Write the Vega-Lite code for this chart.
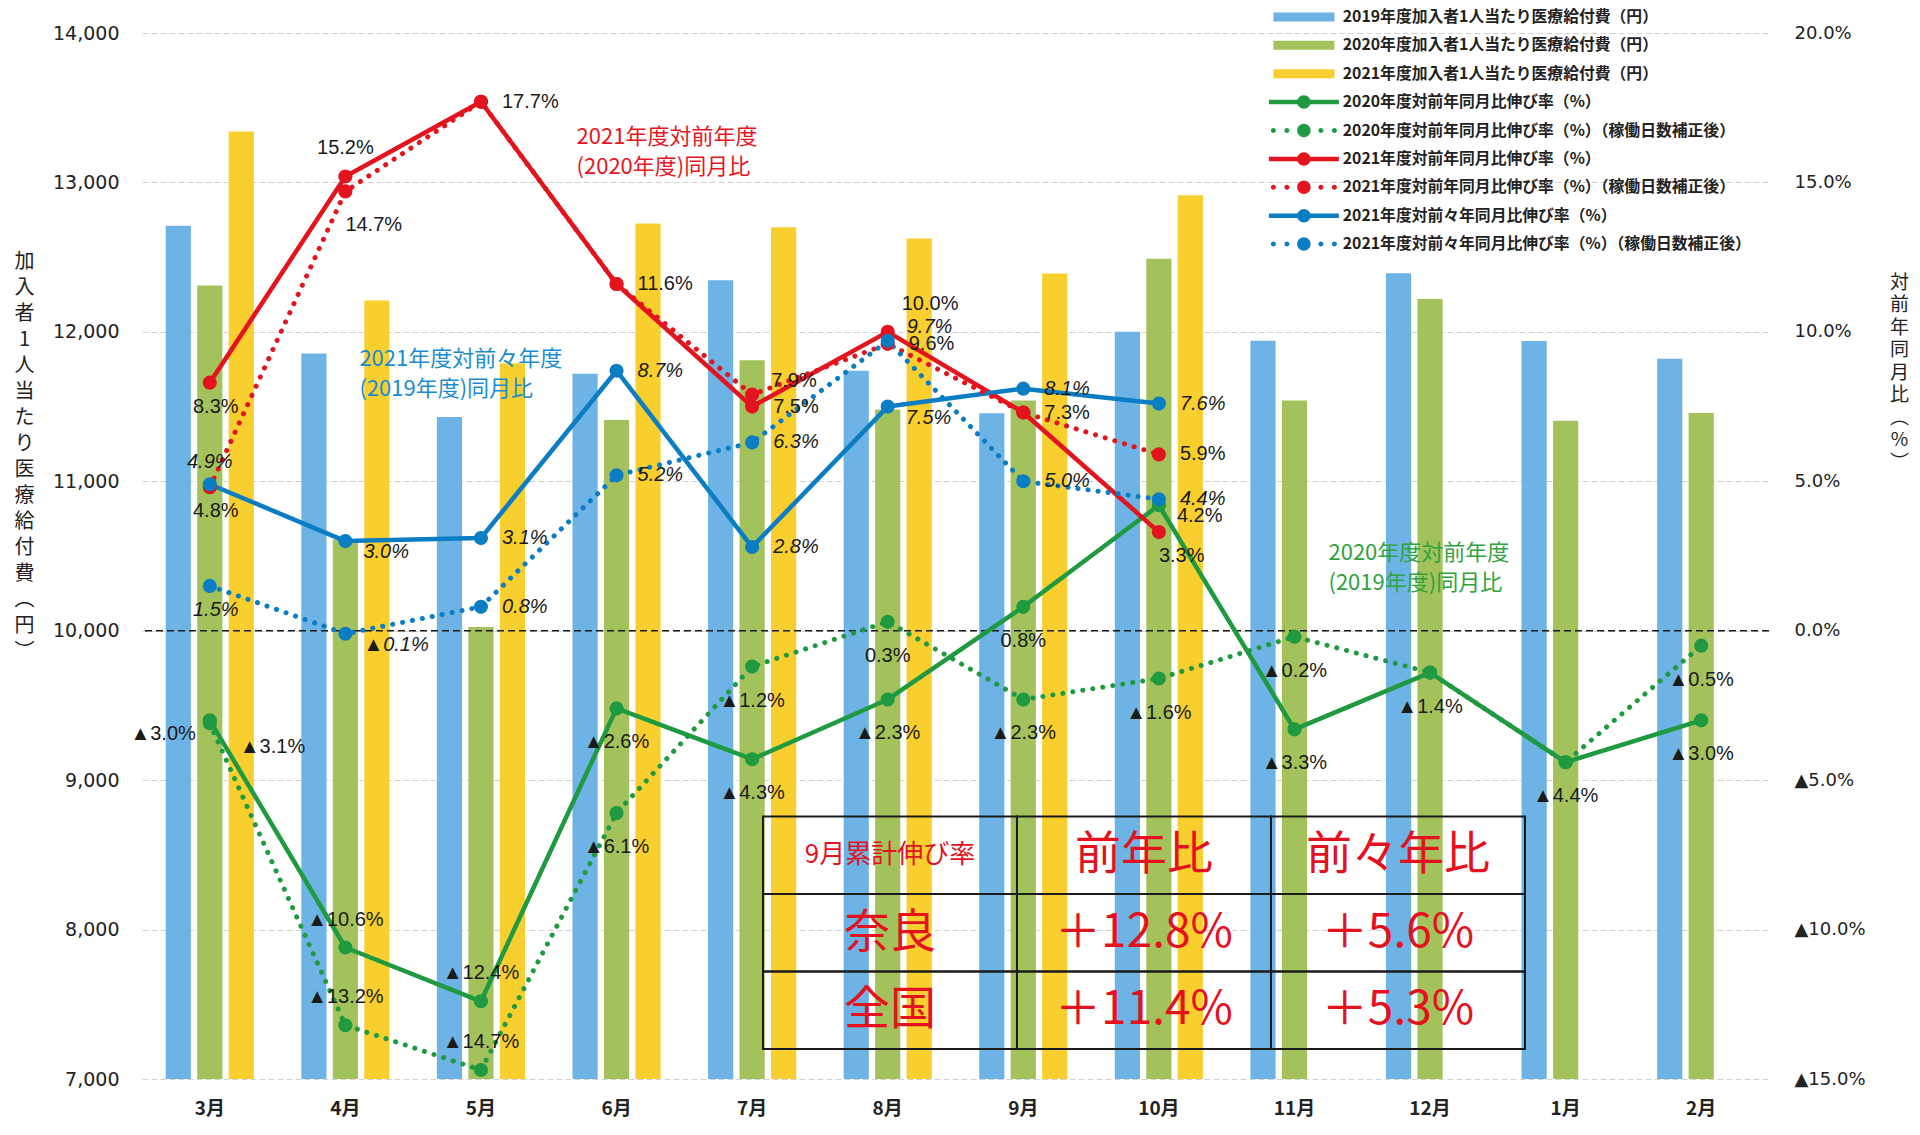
{
  "$schema": "https://vega.github.io/schema/vega-lite/v6.json",
  "width": 1627,
  "height": 1046,
  "autosize": {"type": "none"},
  "padding": {"left": 142, "top": 33, "right": 151, "bottom": 56},
  "background": "white",
  "config": {"view": {"stroke": null}, "font": "Noto Sans CJK JP"},
  "datasets": {
    "yen": [
      {"month": "3月", "series": "2019年度加入者1人当たり医療給付費（円）", "yen": 12710},
      {"month": "3月", "series": "2020年度加入者1人当たり医療給付費（円）", "yen": 12310},
      {"month": "3月", "series": "2021年度加入者1人当たり医療給付費（円）", "yen": 13340},
      {"month": "4月", "series": "2019年度加入者1人当たり医療給付費（円）", "yen": 11855},
      {"month": "4月", "series": "2020年度加入者1人当たり医療給付費（円）", "yen": 10610},
      {"month": "4月", "series": "2021年度加入者1人当たり医療給付費（円）", "yen": 12210},
      {"month": "5月", "series": "2019年度加入者1人当たり医療給付費（円）", "yen": 11430},
      {"month": "5月", "series": "2020年度加入者1人当たり医療給付費（円）", "yen": 10025},
      {"month": "5月", "series": "2021年度加入者1人当たり医療給付費（円）", "yen": 11790},
      {"month": "6月", "series": "2019年度加入者1人当たり医療給付費（円）", "yen": 11720},
      {"month": "6月", "series": "2020年度加入者1人当たり医療給付費（円）", "yen": 11410},
      {"month": "6月", "series": "2021年度加入者1人当たり医療給付費（円）", "yen": 12725},
      {"month": "7月", "series": "2019年度加入者1人当たり医療給付費（円）", "yen": 12345},
      {"month": "7月", "series": "2020年度加入者1人当たり医療給付費（円）", "yen": 11810},
      {"month": "7月", "series": "2021年度加入者1人当たり医療給付費（円）", "yen": 12700},
      {"month": "8月", "series": "2019年度加入者1人当たり医療給付費（円）", "yen": 11740},
      {"month": "8月", "series": "2020年度加入者1人当たり医療給付費（円）", "yen": 11480},
      {"month": "8月", "series": "2021年度加入者1人当たり医療給付費（円）", "yen": 12625},
      {"month": "9月", "series": "2019年度加入者1人当たり医療給付費（円）", "yen": 11455},
      {"month": "9月", "series": "2020年度加入者1人当たり医療給付費（円）", "yen": 11540},
      {"month": "9月", "series": "2021年度加入者1人当たり医療給付費（円）", "yen": 12390},
      {"month": "10月", "series": "2019年度加入者1人当たり医療給付費（円）", "yen": 12000},
      {"month": "10月", "series": "2020年度加入者1人当たり医療給付費（円）", "yen": 12490},
      {"month": "10月", "series": "2021年度加入者1人当たり医療給付費（円）", "yen": 12915},
      {"month": "11月", "series": "2019年度加入者1人当たり医療給付費（円）", "yen": 11940},
      {"month": "11月", "series": "2020年度加入者1人当たり医療給付費（円）", "yen": 11540},
      {"month": "12月", "series": "2019年度加入者1人当たり医療給付費（円）", "yen": 12393},
      {"month": "12月", "series": "2020年度加入者1人当たり医療給付費（円）", "yen": 12220},
      {"month": "1月", "series": "2019年度加入者1人当たり医療給付費（円）", "yen": 11938},
      {"month": "1月", "series": "2020年度加入者1人当たり医療給付費（円）", "yen": 11405},
      {"month": "2月", "series": "2019年度加入者1人当たり医療給付費（円）", "yen": 11820},
      {"month": "2月", "series": "2020年度加入者1人当たり医療給付費（円）", "yen": 11457}
    ],
    "pct": [
      {"month": "3月", "series": "2020年度対前年同月比伸び率（%）", "value": -3.0, "label": "▲3.0%", "anchor": "l"},
      {"month": "4月", "series": "2020年度対前年同月比伸び率（%）", "value": -10.6, "label": "▲10.6%", "anchor": "a"},
      {"month": "5月", "series": "2020年度対前年同月比伸び率（%）", "value": -12.4, "label": "▲12.4%", "anchor": "a"},
      {"month": "6月", "series": "2020年度対前年同月比伸び率（%）", "value": -2.6, "label": "▲2.6%", "anchor": "b"},
      {"month": "7月", "series": "2020年度対前年同月比伸び率（%）", "value": -4.3, "label": "▲4.3%", "anchor": "b"},
      {"month": "8月", "series": "2020年度対前年同月比伸び率（%）", "value": -2.3, "label": "▲2.3%", "anchor": "b"},
      {"month": "9月", "series": "2020年度対前年同月比伸び率（%）", "value": 0.8, "label": "0.8%", "anchor": "b"},
      {"month": "10月", "series": "2020年度対前年同月比伸び率（%）", "value": 4.2, "label": "4.2%", "anchor": "rd"},
      {"month": "11月", "series": "2020年度対前年同月比伸び率（%）", "value": -3.3, "label": "▲3.3%", "anchor": "b"},
      {"month": "12月", "series": "2020年度対前年同月比伸び率（%）", "value": -1.4, "label": "▲1.4%", "anchor": "b"},
      {"month": "1月", "series": "2020年度対前年同月比伸び率（%）", "value": -4.4, "label": "▲4.4%", "anchor": "b"},
      {"month": "2月", "series": "2020年度対前年同月比伸び率（%）", "value": -3.0, "label": "▲3.0%", "anchor": "b"},
      {"month": "3月", "series": "2020年度対前年同月比伸び率（%）（稼働日数補正後）", "value": -3.1, "label": "▲3.1%", "anchor": "brr"},
      {"month": "4月", "series": "2020年度対前年同月比伸び率（%）（稼働日数補正後）", "value": -13.2, "label": "▲13.2%", "anchor": "a"},
      {"month": "5月", "series": "2020年度対前年同月比伸び率（%）（稼働日数補正後）", "value": -14.7, "label": "▲14.7%", "anchor": "a"},
      {"month": "6月", "series": "2020年度対前年同月比伸び率（%）（稼働日数補正後）", "value": -6.1, "label": "▲6.1%", "anchor": "b"},
      {"month": "7月", "series": "2020年度対前年同月比伸び率（%）（稼働日数補正後）", "value": -1.2, "label": "▲1.2%", "anchor": "b"},
      {"month": "8月", "series": "2020年度対前年同月比伸び率（%）（稼働日数補正後）", "value": 0.3, "label": "0.3%", "anchor": "b"},
      {"month": "9月", "series": "2020年度対前年同月比伸び率（%）（稼働日数補正後）", "value": -2.3, "label": "▲2.3%", "anchor": "b"},
      {"month": "10月", "series": "2020年度対前年同月比伸び率（%）（稼働日数補正後）", "value": -1.6, "label": "▲1.6%", "anchor": "b"},
      {"month": "11月", "series": "2020年度対前年同月比伸び率（%）（稼働日数補正後）", "value": -0.2, "label": "▲0.2%", "anchor": "b"},
      {"month": "12月", "series": "2020年度対前年同月比伸び率（%）（稼働日数補正後）", "value": -1.4},
      {"month": "1月", "series": "2020年度対前年同月比伸び率（%）（稼働日数補正後）", "value": -4.4},
      {"month": "2月", "series": "2020年度対前年同月比伸び率（%）（稼働日数補正後）", "value": -0.5, "label": "▲0.5%", "anchor": "b"},
      {"month": "3月", "series": "2021年度対前年同月比伸び率（%）", "value": 8.3, "label": "8.3%", "anchor": "bn"},
      {"month": "4月", "series": "2021年度対前年同月比伸び率（%）", "value": 15.2, "label": "15.2%", "anchor": "a"},
      {"month": "5月", "series": "2021年度対前年同月比伸び率（%）", "value": 17.7, "label": "17.7%", "anchor": "r"},
      {"month": "6月", "series": "2021年度対前年同月比伸び率（%）", "value": 11.6, "label": "11.6%", "anchor": "r"},
      {"month": "7月", "series": "2021年度対前年同月比伸び率（%）", "value": 7.5, "label": "7.5%", "anchor": "r"},
      {"month": "8月", "series": "2021年度対前年同月比伸び率（%）", "value": 10.0, "label": "10.0%", "anchor": "ruu"},
      {"month": "9月", "series": "2021年度対前年同月比伸び率（%）", "value": 7.3, "label": "7.3%", "anchor": "r"},
      {"month": "10月", "series": "2021年度対前年同月比伸び率（%）", "value": 3.3, "label": "3.3%", "anchor": "bd"},
      {"month": "3月", "series": "2021年度対前年同月比伸び率（%）（稼働日数補正後）", "value": 4.8, "label": "4.8%", "anchor": "bn"},
      {"month": "4月", "series": "2021年度対前年同月比伸び率（%）（稼働日数補正後）", "value": 14.7, "label": "14.7%", "anchor": "bdd"},
      {"month": "5月", "series": "2021年度対前年同月比伸び率（%）（稼働日数補正後）", "value": 17.7},
      {"month": "6月", "series": "2021年度対前年同月比伸び率（%）（稼働日数補正後）", "value": 11.6},
      {"month": "7月", "series": "2021年度対前年同月比伸び率（%）（稼働日数補正後）", "value": 7.9, "label": "7.9%", "anchor": "ru"},
      {"month": "8月", "series": "2021年度対前年同月比伸び率（%）（稼働日数補正後）", "value": 9.6, "label": "9.6%", "anchor": "r"},
      {"month": "9月", "series": "2021年度対前年同月比伸び率（%）（稼働日数補正後）", "value": 7.3},
      {"month": "10月", "series": "2021年度対前年同月比伸び率（%）（稼働日数補正後）", "value": 5.9, "label": "5.9%", "anchor": "r"},
      {"month": "3月", "series": "2021年度対前々年同月比伸び率（%）", "value": 4.9, "label": "4.9%", "anchor": "an"},
      {"month": "4月", "series": "2021年度対前々年同月比伸び率（%）", "value": 3.0, "label": "3.0%", "anchor": "rd"},
      {"month": "5月", "series": "2021年度対前々年同月比伸び率（%）", "value": 3.1, "label": "3.1%", "anchor": "r"},
      {"month": "6月", "series": "2021年度対前々年同月比伸び率（%）", "value": 8.7, "label": "8.7%", "anchor": "r"},
      {"month": "7月", "series": "2021年度対前々年同月比伸び率（%）", "value": 2.8, "label": "2.8%", "anchor": "r"},
      {"month": "8月", "series": "2021年度対前々年同月比伸び率（%）", "value": 7.5, "label": "7.5%", "anchor": "rd"},
      {"month": "9月", "series": "2021年度対前々年同月比伸び率（%）", "value": 8.1, "label": "8.1%", "anchor": "r"},
      {"month": "10月", "series": "2021年度対前々年同月比伸び率（%）", "value": 7.6, "label": "7.6%", "anchor": "r"},
      {"month": "3月", "series": "2021年度対前々年同月比伸び率（%）（稼働日数補正後）", "value": 1.5, "label": "1.5%", "anchor": "bn"},
      {"month": "4月", "series": "2021年度対前々年同月比伸び率（%）（稼働日数補正後）", "value": -0.1, "label": "▲0.1%", "anchor": "rd"},
      {"month": "5月", "series": "2021年度対前々年同月比伸び率（%）（稼働日数補正後）", "value": 0.8, "label": "0.8%", "anchor": "r"},
      {"month": "6月", "series": "2021年度対前々年同月比伸び率（%）（稼働日数補正後）", "value": 5.2, "label": "5.2%", "anchor": "r"},
      {"month": "7月", "series": "2021年度対前々年同月比伸び率（%）（稼働日数補正後）", "value": 6.3, "label": "6.3%", "anchor": "r"},
      {"month": "8月", "series": "2021年度対前々年同月比伸び率（%）（稼働日数補正後）", "value": 9.7, "label": "9.7%", "anchor": "ru"},
      {"month": "9月", "series": "2021年度対前々年同月比伸び率（%）（稼働日数補正後）", "value": 5.0, "label": "5.0%", "anchor": "r"},
      {"month": "10月", "series": "2021年度対前々年同月比伸び率（%）（稼働日数補正後）", "value": 4.4, "label": "4.4%", "anchor": "r"}
    ],
    "table": [
      {"row": "見出し", "col": "項目", "text": "9月累計伸び率"},
      {"row": "見出し", "col": "前年比", "text": "前年比"},
      {"row": "見出し", "col": "前々年比", "text": "前々年比"},
      {"row": "奈良", "col": "項目", "text": "奈良"},
      {"row": "奈良", "col": "前年比", "text": "＋12.8%"},
      {"row": "奈良", "col": "前々年比", "text": "＋5.6%"},
      {"row": "全国", "col": "項目", "text": "全国"},
      {"row": "全国", "col": "前年比", "text": "＋11.4%"},
      {"row": "全国", "col": "前々年比", "text": "＋5.3%"}
    ]
  },
  "layer": [
    {
      "layer": [
        {
          "data": {"name": "yen"},
          "mark": {"type": "bar"},
          "encoding": {
            "x": {"field": "month", "type": "nominal", "sort": null,
              "scale": {"type": "band", "domain": ["3月","4月","5月","6月","7月","8月","9月","10月","11月","12月","1月","2月"], "paddingInner": 0.35, "paddingOuter": 0.175},
              "axis": {"title": null, "orient": "bottom", "labelAngle": 0, "labelFont": "Noto Sans CJK JP", "labelFontSize": 19, "labelFontWeight": "bold", "labelColor": "#222222", "labelPadding": 20, "grid": false, "ticks": false, "domain": false}},
            "xOffset": {"field": "series", "type": "nominal", "sort": null,
              "scale": {"domain": ["2019年度加入者1人当たり医療給付費（円）","2020年度加入者1人当たり医療給付費（円）","2021年度加入者1人当たり医療給付費（円）"], "paddingInner": 0.2, "paddingOuter": 0}},
            "y": {"field": "yen", "type": "quantitative",
              "scale": {"domain": [7000, 14000], "nice": false, "zero": false},
              "axis": {"orient": "left", "values": [7000,8000,9000,10000,11000,12000,13000,14000], "format": ",.0f", "grid": true, "gridColor": "#d2d2d2", "gridDash": [6,3], "gridWidth": 1, "ticks": false, "domain": false,
                "labelFont": "DejaVu Sans", "labelFontSize": 19, "labelColor": "#222222", "labelPadding": 23,
                "title": ["加","入","者","1","人","当","た","り","医","療","給","付","費","︵","円","︶"],
                "titleAngle": 0, "titleX": -118, "titleY": 218, "titleAlign": "center", "titleBaseline": "top",
                "titleFont": "Noto Sans CJK JP", "titleFontSize": 20, "titleFontWeight": "normal", "titleLineHeight": 26, "titleColor": "#222222"}},
            "y2": {"datum": 7000},
            "color": {"field": "series", "type": "nominal",
              "scale": {
                "domain": ["2019年度加入者1人当たり医療給付費（円）","2020年度加入者1人当たり医療給付費（円）","2021年度加入者1人当たり医療給付費（円）","2020年度対前年同月比伸び率（%）","2020年度対前年同月比伸び率（%）（稼働日数補正後）","2021年度対前年同月比伸び率（%）","2021年度対前年同月比伸び率（%）（稼働日数補正後）","2021年度対前々年同月比伸び率（%）","2021年度対前々年同月比伸び率（%）（稼働日数補正後）"],
                "range": ["#6DB3E5","#A4C25B","#F8CF2E","#1F9A40","#1F9A40","#E3141D","#E3141D","#0B7DC3","#0B7DC3"]},
              "legend": {
                "title": null, "orient": "none", "legendX": 1124, "legendY": -24, "direction": "vertical", "columns": 1,
                "labelFont": "Noto Sans CJK JP", "labelFontSize": 15.8, "labelFontWeight": "bold", "labelColor": "#222222", "labelLimit": 600,
                "symbolSize": 100, "symbolStrokeWidth": 0, "symbolOffset": 30, "labelOffset": 31, "rowPadding": 11.4, "padding": 0,
                "symbolType": {"expr": "indexof(datum.value, '医療給付費') >= 0 ? 'M-6.1,-0.9H6.1V0.9H-6.1Z' : (indexof(datum.value, '稼働日数') < 0 ? 'M-7,-0.45H7V0.45H-7Z M-1.35,0A1.35,1.35 0 1,1 1.35,0A1.35,1.35 0 1,1 -1.35,0Z' : 'M-1.35,0A1.35,1.35 0 1,1 1.35,0A1.35,1.35 0 1,1 -1.35,0Z M-6.6,0A0.5,0.5 0 1,1 -5.6,0A0.5,0.5 0 1,1 -6.6,0Z M-3.9,0A0.5,0.5 0 1,1 -2.9,0A0.5,0.5 0 1,1 -3.9,0Z M2.9,0A0.5,0.5 0 1,1 3.9,0A0.5,0.5 0 1,1 2.9,0Z M5.6,0A0.5,0.5 0 1,1 6.6,0A0.5,0.5 0 1,1 5.6,0Z')"}
              }}
          }
        },
        {
          "data": {"name": "pct"},
          "layer": [
            {
              "data": {"values": [{}]},
              "mark": {"type": "rule", "color": "#1a1a1a", "strokeWidth": 1.6, "strokeDash": [7, 4]},
              "encoding": {
                "y": {"datum": 0, "type": "quantitative",
                  "scale": {"domain": [-15, 20], "nice": false, "zero": false},
                  "axis": {"orient": "right", "values": [-15,-10,-5,0,5,10,15,20], "grid": false, "ticks": false, "domain": false,
                    "labelExpr": "datum.value < 0 ? '▲' + format(-datum.value, '.1f') + '%' : format(datum.value, '.1f') + '%'",
                    "labelFont": "DejaVu Sans", "labelFontSize": 18, "labelColor": "#222222", "labelPadding": 25, "labelAlign": "left",
                    "title": ["対","前","年","同","月","比","︵","%","︶"],
                    "titleAngle": 0, "titleX": 130, "titleY": 240, "titleAlign": "center", "titleBaseline": "top",
                    "titleFont": "Noto Sans CJK JP", "titleFontSize": 19, "titleFontWeight": "normal", "titleLineHeight": 22.5, "titleColor": "#222222"}}
              }
            },
            {
              "transform": [{"filter": "indexof(datum.series, '稼働日数補正後') < 0"}],
              "mark": {"type": "line", "strokeWidth": 4.5, "strokeJoin": "round", "strokeCap": "round"},
              "encoding": {
                "x": {"field": "month", "type": "nominal", "sort": null, "bandPosition": 0.5},
                "y": {"field": "value", "type": "quantitative", "scale": {"domain": [-15, 20], "nice": false, "zero": false}},
                "color": {"field": "series", "type": "nominal", "legend": null},
                "order": {"value": null}
              }
            },
            {
              "transform": [{"filter": "indexof(datum.series, '稼働日数補正後') >= 0"}],
              "mark": {"type": "line", "strokeWidth": 5, "strokeCap": "round", "strokeDash": [0.1, 10]},
              "encoding": {
                "x": {"field": "month", "type": "nominal", "sort": null, "bandPosition": 0.5},
                "y": {"field": "value", "type": "quantitative", "scale": {"domain": [-15, 20], "nice": false, "zero": false}},
                "color": {"field": "series", "type": "nominal", "legend": null},
                "order": {"value": null}
              }
            },
            {
              "mark": {"type": "point", "filled": true, "size": 200, "opacity": 1, "shape": "circle"},
              "encoding": {
                "x": {"field": "month", "type": "nominal", "sort": null, "bandPosition": 0.5},
                "y": {"field": "value", "type": "quantitative", "scale": {"domain": [-15, 20], "nice": false, "zero": false}},
                "color": {"field": "series", "type": "nominal", "legend": null}
              }
            },
            {
              "transform": [{"filter": "datum.label != null"}],
              "mark": {"type": "text", "font": "Liberation Sans", "fontSize": 20, "color": "#1a1a1a", "baseline": "middle",
                "fontStyle": {"expr": "indexof(datum.series, '前々年') >= 0 ? 'italic' : 'normal'"},
                "align": {"expr": "datum.anchor == 'l' ? 'right' : ((datum.anchor == 'a' || datum.anchor == 'b' || datum.anchor == 'bn' || datum.anchor == 'an') ? 'center' : 'left')"},
                "dx": {"expr": "datum.anchor == 'r' ? 21 : datum.anchor == 'rd' ? 18 : datum.anchor == 'ru' ? 19 : datum.anchor == 'ruu' ? 14 : datum.anchor == 'l' ? -14 : datum.anchor == 'brr' ? 30 : datum.anchor == 'bn' ? 6 : 0"},
                "dy": {"expr": "datum.anchor == 'rd' ? 11 : datum.anchor == 'ru' ? -14 : datum.anchor == 'ruu' ? -28 : datum.anchor == 'l' ? 14 : datum.anchor == 'a' ? -28 : datum.anchor == 'b' ? 34 : datum.anchor == 'bn' ? 24 : datum.anchor == 'an' ? -22 : datum.anchor == 'bd' ? 24 : datum.anchor == 'bdd' ? 34 : datum.anchor == 'brr' ? 24 : 0"}},
              "encoding": {
                "x": {"field": "month", "type": "nominal", "sort": null, "bandPosition": 0.5},
                "y": {"field": "value", "type": "quantitative", "scale": {"domain": [-15, 20], "nice": false, "zero": false}},
                "text": {"field": "label", "type": "nominal"}
              }
            },
            {
              "data": {"values": [{}]},
              "mark": {"type": "text", "text": ["2021年度対前年度", "(2020年度)同月比"], "align": "left", "baseline": "middle", "lineHeight": 30, "fontSize": 22, "color": "#E8141E", "font": "Noto Sans CJK JP", "dx": -40},
              "encoding": {
                "x": {"datum": "6月", "type": "nominal", "bandPosition": 0.5},
                "y": {"datum": 16.52, "type": "quantitative", "scale": {"domain": [-15, 20], "nice": false, "zero": false}}
              }
            },
            {
              "data": {"values": [{}]},
              "mark": {"type": "text", "text": ["2021年度対前々年度", "(2019年度)同月比"], "align": "left", "baseline": "middle", "lineHeight": 30, "fontSize": 22, "color": "#1B8BD0", "font": "Noto Sans CJK JP", "dx": 14},
              "encoding": {
                "x": {"datum": "4月", "type": "nominal", "bandPosition": 0.5},
                "y": {"datum": 9.09, "type": "quantitative", "scale": {"domain": [-15, 20], "nice": false, "zero": false}}
              }
            },
            {
              "data": {"values": [{}]},
              "mark": {"type": "text", "text": ["2020年度対前年度", "(2019年度)同月比"], "align": "left", "baseline": "middle", "lineHeight": 30, "fontSize": 22, "color": "#2FA33E", "font": "Noto Sans CJK JP", "dx": 34},
              "encoding": {
                "x": {"datum": "11月", "type": "nominal", "bandPosition": 0.5},
                "y": {"datum": 2.6, "type": "quantitative", "scale": {"domain": [-15, 20], "nice": false, "zero": false}}
              }
            }
          ]
        }
      ],
      "resolve": {"scale": {"y": "independent"}}
    },
    {
      "data": {"name": "table"},
      "layer": [
        {
          "mark": {"type": "rect", "fill": "transparent", "stroke": "#1a1a1a", "strokeWidth": 2},
          "encoding": {
            "x": {"field": "col", "type": "nominal", "sort": null, "scale": {"type": "band", "domain": ["_a","_b","項目","前年比","前々年比"], "paddingInner": 0, "paddingOuter": 0.7028, "align": 0.3165}, "axis": null},
            "y": {"field": "row", "type": "nominal", "sort": null, "scale": {"type": "band", "domain": ["_0","_1","_2","_3","_4","_5","_6","_7","_8","_9","見出し","奈良","全国"], "paddingInner": 0, "paddingOuter": 0.25, "align": 0.227}, "axis": null}
          }
        },
        {
          "mark": {"type": "text", "color": "#E3121E", "font": "Noto Sans CJK JP", "baseline": "middle", "align": "center"},
          "encoding": {
            "x": {"field": "col", "type": "nominal", "sort": null, "bandPosition": 0.5, "axis": null},
            "y": {"field": "row", "type": "nominal", "sort": null, "bandPosition": 0.5, "axis": null},
            "text": {"field": "text", "type": "nominal"},
            "size": {"condition": {"test": "datum.text === '9月累計伸び率'", "value": 26}, "value": 46}
          }
        }
      ]
    }
  ],
  "resolve": {"scale": {"x": "independent", "y": "independent"}}
}
